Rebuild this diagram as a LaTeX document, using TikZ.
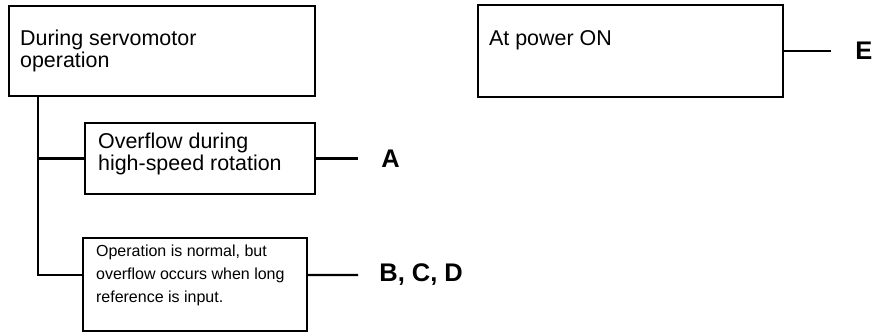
\documentclass[tikz,border=0pt]{standalone}
\usepackage{fontspec}
\setmainfont{Liberation Sans}
\usepackage{tikz}
\usetikzlibrary{positioning, calc}

\tikzset{
  box/.style={draw, line width=1.4pt, inner sep=0pt},
  boxtext/.style={font=\fontsize{12.2}{12.5}\selectfont, align=left, inner sep=0pt},
  smalltext/.style={font=\fontsize{9.1}{13}\selectfont, align=left, inner sep=0pt},
  tag/.style={font=\fontsize{14.5}{16}\selectfont\bfseries, inner sep=0pt, anchor=west},
  wire/.style={line width=1.4pt}
}

\begin{document}
\begin{tikzpicture}
  \useasboundingbox (0, 0) rectangle (17.6, 6.66);
  % boxes
  \node[box, minimum width=6.12cm, minimum height=1.8cm] (servo) at (3.24, 5.64) {};
  \node[box, minimum width=4.6cm, minimum height=1.42cm] (highspeed) at (4.0, 3.49) {};
  \node[box, minimum width=4.48cm, minimum height=1.86cm] (normal) at (3.90, 0.97) {};
  \node[box, minimum width=6.1cm, minimum height=1.84cm] (poweron) at (12.61, 5.64) {};
  % texts in the boxes
  \node[boxtext, below right=0.5cm and 0.24cm of servo.north west] (servotext) {During servomotor\\operation};
  \node[boxtext, below right=0.22cm and 0.28cm of highspeed.north west] (highspeedtext) {Overflow during\\high-speed rotation};
  \node[smalltext, below right=0.16cm and 0.28cm of normal.north west] (normaltext) {Operation is normal, but\\overflow occurs when long\\reference is input.};
  \node[boxtext, below right=0.52cm and 0.24cm of poweron.north west] (powerontext) {At power ON};
  % tree on the left
  \coordinate (trunk) at (0.76, 0);
  \coordinate (normaljoin) at ($(normal.west)+(0, 0.19)$);
  \draw[wire] (servo.south -| trunk) |- (normaljoin);
  \draw[wire] (trunk |- highspeed.west) -- (highspeed.west);
  % lines to the causes
  \coordinate (endA) at (7.16, 3.49);
  \coordinate (endBCD) at (7.16, 1.16);
  \coordinate (endE) at (16.62, 5.64);
  \draw[wire] (highspeed.east) -- (endA);
  \draw[wire] (normaljoin -| normal.east) -- (endBCD);
  \draw[wire] (poweron.east) -- (endE);
  \node[tag, right=0.46cm of endA] (causeA) {A};
  \node[tag, right=0.42cm of endBCD] (causeBCD) {B, C, D};
  \node[tag, right=0.48cm of endE] (causeE) {E};
\end{tikzpicture}
\end{document}
